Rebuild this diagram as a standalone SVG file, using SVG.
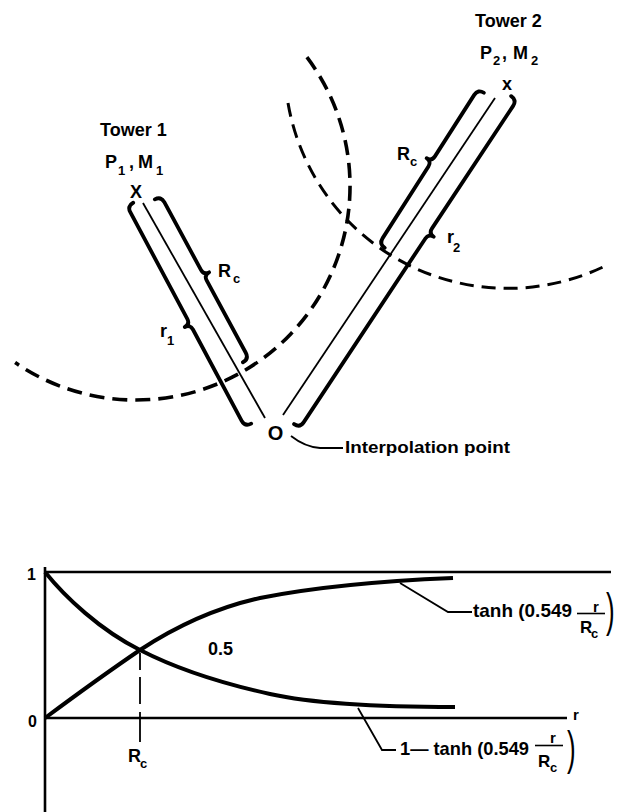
<svg xmlns="http://www.w3.org/2000/svg" width="619" height="812" viewBox="0 0 619 812">
<style>
text{font-family:"Liberation Sans",Arial,Helvetica,sans-serif;font-weight:bold;fill:#000}
.lbl{font-size:18px}
.sub{font-size:13px}
.brace{fill:none;stroke:#000;stroke-width:3.8;stroke-linecap:round;stroke-linejoin:round}
.axis{fill:none;stroke:#000;stroke-width:1.8}
.arcA{fill:none;stroke:#000;stroke-width:3.6;stroke-dasharray:15 8}
.arcB{fill:none;stroke:#000;stroke-width:3;stroke-dasharray:14 8}
.lead{fill:none;stroke:#000;stroke-width:1.8}
.curve{fill:none;stroke:#000;stroke-width:4}
.frame{fill:none;stroke:#000;stroke-width:2.6}
.paren{font-weight:normal;font-size:26px}
</style>

<g id="circles">
<path class="arcA" d="M306.9,57.2 A214,214 0 0 1 15.1,362.6"/>
<path class="arcB" d="M288,103 A223,223 0 0 0 603,267"/>
</g>

<g id="tower1">
<text class="lbl" x="100" y="136">Tower 1</text>
<text class="lbl" y="168"><tspan x="105">P</tspan><tspan class="sub" x="118" y="175">1</tspan><tspan x="129" y="168">,</tspan><tspan x="138">M</tspan><tspan class="sub" x="156" y="175">1</tspan></text>
<text class="lbl" x="136" y="198" text-anchor="middle">X</text>
<line class="axis" x1="143" y1="203" x2="265" y2="418"/>
<path class="brace" transform="translate(127,206) rotate(61.9) scale(1,-1)" d="M0,7 Q0,0 7,0 L128,0 Q134,0 134,-6 Q134,0 140,0 L243.5,0 Q250.5,0 250.5,7"/>
<path class="brace" transform="translate(161,196) rotate(61.6)" d="M0,7 Q0,0 7,0 L84,0 Q90,0 90,-6 Q90,0 96,0 L178.2,0 Q185.2,0 185.2,7"/>
<text class="lbl" x="218" y="277">R</text><text class="sub" x="233" y="283">c</text>
<text class="lbl" x="160" y="337">r</text><text class="sub" x="167" y="345">1</text>
</g>

<g id="tower2">
<text class="lbl" x="475" y="27">Tower 2</text>
<text class="lbl" y="59"><tspan x="480">P</tspan><tspan class="sub" x="493" y="65">2</tspan><tspan x="502" y="59">,</tspan><tspan x="513">M</tspan><tspan class="sub" x="531" y="65">2</tspan></text>
<text class="lbl" x="507" y="90" text-anchor="middle">x</text>
<line class="axis" x1="495" y1="98" x2="283" y2="415"/>
<path class="brace" transform="translate(478,89) rotate(122.6) scale(1,-1)" d="M0,7 Q0,0 7,0 L80,0 Q86,0 86,-6 Q86,0 92,0 L177,0 Q184,0 184,7"/>
<path class="brace" transform="translate(517,100) rotate(123.5)" d="M0,7 Q0,0 7,0 L154,0 Q160,0 160,-6 Q160,0 166,0 L386.3,0 Q393.3,0 393.3,7"/>
<text class="lbl" x="397" y="160">R</text><text class="sub" x="410" y="166">c</text>
<text class="lbl" x="447" y="243">r</text><text class="sub" x="453" y="252">2</text>
</g>

<g id="interpolation-point">
<text x="275.5" y="440" font-size="20" text-anchor="middle">O</text>
<text x="345" y="453" font-size="17" textLength="165" lengthAdjust="spacingAndGlyphs">Interpolation point</text>
</g>

<g id="chart">
<line class="frame" x1="45" y1="572" x2="611" y2="572"/>
<line class="frame" x1="45" y1="567" x2="45" y2="812" stroke-width="3"/>
<line class="frame" x1="45" y1="718" x2="567" y2="718"/>
<text x="27" y="580" font-size="16">1</text>
<text x="28" y="727" font-size="16">0</text>
<text x="573" y="720" font-size="15">r</text>
<path class="curve" d="M45,718 C80,692 115,667 140,650 C175,627 215,608 260,598 C310,588 380,581 453,578"/>
<path class="curve" d="M45,572 C65,597 100,630 140,650 C175,668 220,683 270,694 C320,705 390,707 455,707"/>
<path class="axis" stroke-width="2.5" d="M140,653 V670 M140,677 V704 M140,712 V742"/>
<text class="lbl" x="208" y="655">0.5</text>
<text class="lbl" x="128" y="762">R</text><text class="sub" x="140" y="768">c</text>
<g id="label-tanh">
<text x="473" y="617" font-size="19" textLength="99" lengthAdjust="spacingAndGlyphs">tanh (0.549</text>
<text x="593" y="612" font-size="15">r</text>
<line x1="577" y1="613.5" x2="605" y2="613.5" stroke="#000" stroke-width="1.6"/>
<text x="580" y="633" font-size="17">R</text><text class="sub" x="591" y="638">c</text>
<text class="paren" transform="translate(606,626) scale(1,1.8)">)</text>
</g>
<g id="label-one-minus-tanh">
<text x="400" y="755" font-size="19" textLength="129" lengthAdjust="spacingAndGlyphs">1— tanh (0.549</text>
<text x="550" y="743" font-size="15">r</text>
<line x1="535" y1="745.5" x2="563" y2="745.5" stroke="#000" stroke-width="1.6"/>
<text x="538" y="767" font-size="17">R</text><text class="sub" x="550" y="772">c</text>
<text class="paren" transform="translate(567,764) scale(1,1.8)">)</text>
</g>
</g>

<g id="connectors">
<path class="lead" d="M291,436 Q305,447 320,448 L343,448"/>
<path class="lead" d="M400,583 L448,612 L472,612"/>
<path class="lead" d="M358,708 L382,750 L396,750"/>
</g>
</svg>
